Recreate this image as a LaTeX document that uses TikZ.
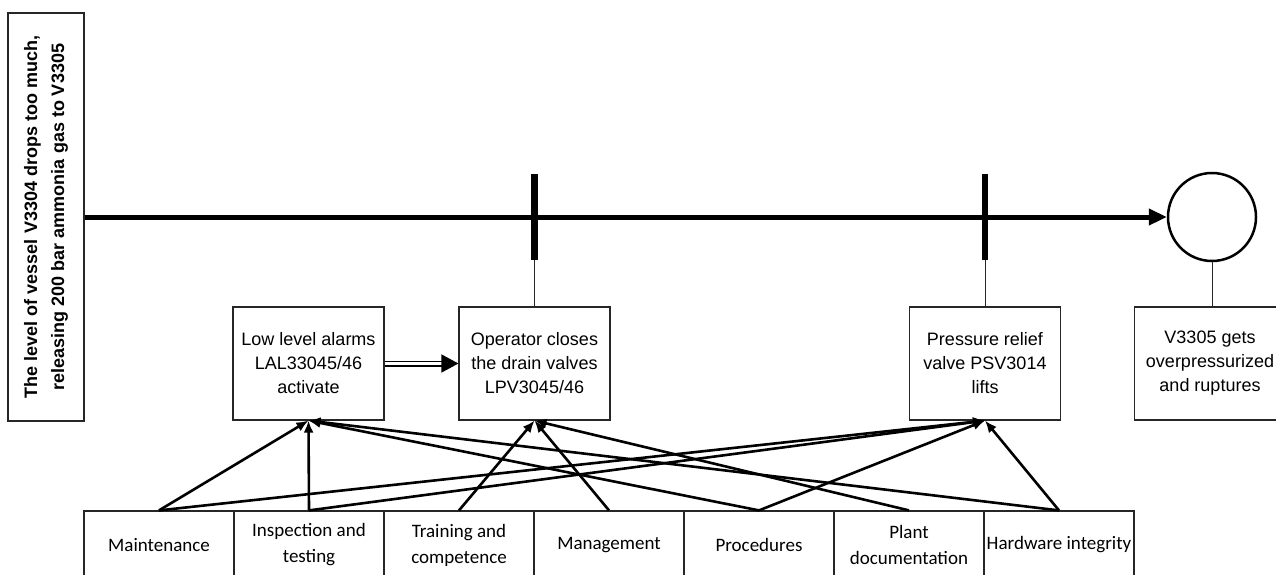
\documentclass[tikz,border=0pt]{standalone}
\usepackage{fontspec}
\setmainfont{Liberation Sans}
\newfontfamily\calibri{Carlito}
\usetikzlibrary{arrows.meta, calc}

\tikzset{
  event/.style={draw=black!85, line width=1.2pt, minimum width=151pt, minimum height=113pt,
    align=center, inner sep=1pt, font=\fontsize{18}{24}\selectfont},
  factor/.style={draw=black!85, line width=1.2pt, minimum width=150pt, minimum height=68pt,
    align=center, inner sep=1pt, font=\calibri\fontsize{19}{26}\selectfont},
  influence/.style={-{Latex[length=12pt,width=10pt]}, line width=2.6pt},
  barrier/.style={line width=6.5pt},
  link/.style={line width=1pt, black!85},
}

\begin{document}
\begin{tikzpicture}[x=1pt, y=-1pt]
    \useasboundingbox (0,0) rectangle (1276,575);
    \clip (0,0) rectangle (1276,575);

    % Initiating event
    \node[draw=black!85, line width=1.2pt, rotate=90, minimum width=408pt, minimum height=76pt,
      align=center, font=\bfseries\fontsize{18}{27}\selectfont] (init) at (46,217)
      {The level of vessel V3304 drops too much,\\ releasing 200 bar ammonia gas to V3305};

    % Barrier and consequence boxes
    \node[event] (alarm) at (308.5,363.5) {Low level alarms\\ LAL33045/46\\ activate};
    \node[event] (operator) at (534.5,363.5) {Operator closes\\ the drain valves\\ LPV3045/46};
    \node[event] (psv) at (985,363.5) {Pressure relief\\ valve PSV3014\\ lifts};
    \node[event] (rupture) at (1210,363.5) {V3305 gets\\ overpressurized\\ and ruptures};

    % Top event
    \node[circle, draw, line width=2.5pt, minimum size=88pt, inner sep=0pt] (top) at (1212,217) {};

    % Risk influencing factors
    \node[factor] (maint) at (159,545) {Maintenance};
    \node[factor] (insp) at (309,545) {Inspection and\\ testing};
    \node[factor] (train) at (459,545) {Training and\\ competence};
    \node[factor] (mgmt) at (609,545) {Management};
    \node[factor] (proc) at (759,545) {Procedures};
    \node[factor] (doc) at (909,545) {Plant\\ documentation};
    \node[factor] (hw) at (1059,545) {Hardware integrity};

    % Event sequence
    \draw[line width=5pt, -{Triangle[length=18pt,width=16pt]}] (init.south) -- (top.west);

    % Barriers on the sequence
    \coordinate (b1) at (operator.north |- top.center);
    \coordinate (b2) at (psv.north |- top.center);
    \draw[barrier] ($(b1)+(0,-43)$) -- ($(b1)+(0,43)$);
    \draw[barrier] ($(b2)+(0,-43)$) -- ($(b2)+(0,43)$);
    \draw[link] ($(b1)+(0,43)$) -- (operator.north);
    \draw[link] ($(b2)+(0,43)$) -- (psv.north);
    \draw[link] (top.south) -- (top.south |- rupture.north);

    % Alarm triggers the operator
    \draw[double, double distance=3pt, line width=1.5pt, -{Triangle[length=17pt,width=18pt]}]
      (alarm.east) -- (operator.west);

    % Influences of the factors
    \draw[influence] (maint.north) -- (alarm.south);
    \draw[influence] (maint.north) -- (psv.south);
    \draw[influence] (insp.north) -- (alarm.south);
    \draw[influence] (insp.north) -- (psv.south);
    \draw[influence] (train.north) -- (operator.south);
    \draw[influence] (mgmt.north) -- (operator.south);
    \draw[influence] (proc.north) -- (alarm.south);
    \draw[influence] (proc.north) -- (psv.south);
    \draw[influence] (doc.north) -- (operator.south);
    \draw[influence] (hw.north) -- (alarm.south);
    \draw[influence] (hw.north) -- (psv.south);
\end{tikzpicture}
\end{document}
